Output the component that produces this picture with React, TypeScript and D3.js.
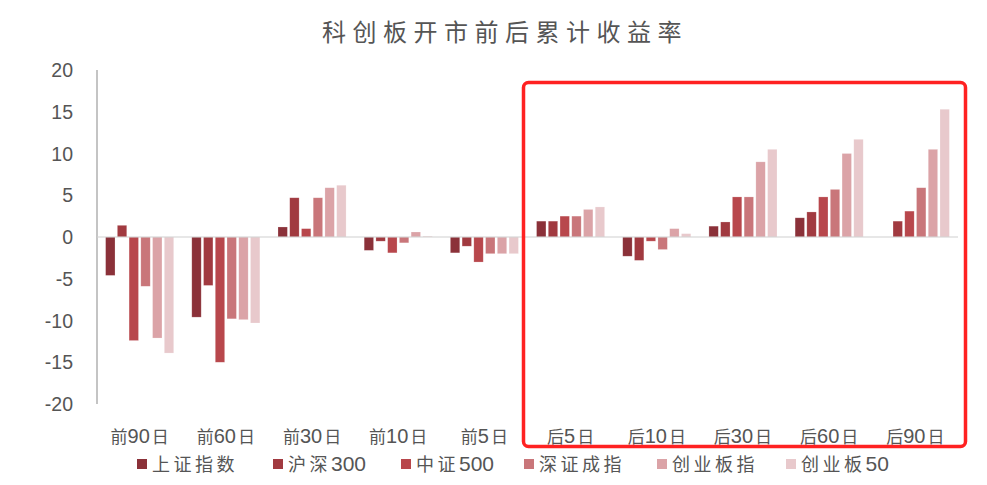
import React from "react";
import * as d3 from "d3";

const categories = ["前90日", "前60日", "前30日", "前10日", "前5日", "后5日", "后10日", "后30日", "后60日", "后90日"];
const seriesNames = ["上证指数", "沪深300", "中证500", "深证成指", "创业板指", "创业板50"];
const seriesColors = ["#8B3139", "#A13A40", "#B8474C", "#C9767A", "#DBA3A7", "#E8C9CC"];

const shangzheng = [-4.6, -9.6, 1.2, -1.6, -1.9, 1.9, -2.3, 1.3, 2.3, 0.0];
const hushen300 = [1.4, -5.8, 4.7, -0.5, -1.1, 1.9, -2.8, 1.8, 3.0, 1.9];
const zhongzheng500 = [-12.4, -15.0, 1.0, -1.9, -3.0, 2.5, -0.5, 4.8, 4.8, 3.1];
const shenzheng = [-5.9, -9.8, 4.7, -0.7, -2.0, 2.5, -1.5, 4.8, 5.7, 5.9];
const chuangyeban = [-12.1, -9.9, 5.9, 0.6, -2.0, 3.3, 1.0, 9.0, 10.0, 10.5];
const chuangye50 = [-13.9, -10.3, 6.2, 0.1, -2.0, 3.6, 0.4, 10.5, 11.7, 15.3];
const allSeries = [shangzheng, hushen300, zhongzheng500, shenzheng, chuangyeban, chuangye50];

const yTicks = [20, 15, 10, 5, 0, -5, -10, -15, -20];

const W = 987;
const H = 485;
const left = 97;
const right = 958;
const top = 70;
const bottom = 404;

function splitDigits(s: string) {
  const m = s.match(/^(\D*)(\d*)(\D*)$/);
  if (!m) return [s, "", ""];
  return [m[1], m[2], m[3]];
}

export default function App() {
  const x0 = d3.scaleBand<string>().domain(categories).range([left, right]).paddingInner(0.21).paddingOuter(0.1);
  const x1 = d3.scaleBand<number>().domain(d3.range(6)).range([0, x0.bandwidth()]).paddingInner(0.2).paddingOuter(0);
  const y = d3.scaleLinear().domain([-20, 20]).range([bottom, top]);
  const fontCJK = "'Noto Sans CJK SC', 'Noto Sans', sans-serif";
  const fontNum = "'Liberation Sans', Arial, sans-serif";
  const legendX = [137, 273, 401, 524, 657, 786];

  return (
    <svg width={W} height={H} style={{ position: "absolute", left: 0, top: 0, background: "#fff" }}>
      <text x={505} y={41} textAnchor="middle" fontFamily={fontCJK} fontSize={24} fill="#555" letterSpacing={6.5} fontWeight={400}>
        科创板开市前后累计收益率
      </text>
      {yTicks.map((t) => (
        <text key={t} x={73} y={y(t) + 7} textAnchor="end" fontFamily={fontNum} fontSize={19.5} fill="#555">
          {t}
        </text>
      ))}
      <line x1={left} x2={left} y1={top} y2={bottom} stroke="#b0b0b0" strokeWidth={1.5} />
      {categories.map((c, ci) => (
        <g key={c} transform={`translate(${x0(c)},0)`}>
          {allSeries.map((s, si) => {
            const v = s[ci];
            const yy = Math.min(y(v), y(0));
            const hh = Math.abs(y(v) - y(0));
            return (
              <rect key={si} x={x1(si)} y={yy} width={x1.bandwidth()} height={hh} fill={seriesColors[si]} stroke="#fff" strokeOpacity={0.35} strokeWidth={0.6} />
            );
          })}
        </g>
      ))}
      <line x1={left} x2={right} y1={y(0)} y2={y(0)} stroke="#d0d0d0" strokeWidth={1.2} />
      {categories.map((c) => {
        const [a, d, b] = splitDigits(c);
        return (
          <text key={c} x={(x0(c) as number) + x0.bandwidth() / 2} y={443} textAnchor="middle" fontFamily={fontCJK} fontSize={17} fill="#555">
            {a}
            <tspan fontFamily={fontNum} fontSize={20}>{d}</tspan>
            <tspan dx={2}>{b}</tspan>
          </text>
        );
      })}
      <rect x={523.5} y={82.5} width={442} height={364} rx={5} ry={5} fill="none" stroke="#FF2121" strokeWidth={3.5} />
      {seriesNames.map((n, i) => {
        const [a, d] = splitDigits(n);
        return (
          <g key={n}>
            <rect x={legendX[i]} y={459} width={10} height={10} fill={seriesColors[i]} />
            <text x={legendX[i] + 15} y={471} fontFamily={fontCJK} fontSize={18} fill="#555">
              <tspan letterSpacing={3.5}>{a}</tspan>
              <tspan fontFamily={fontNum} fontSize={21}>{d}</tspan>
            </text>
          </g>
        );
      })}
    </svg>
  );
}
